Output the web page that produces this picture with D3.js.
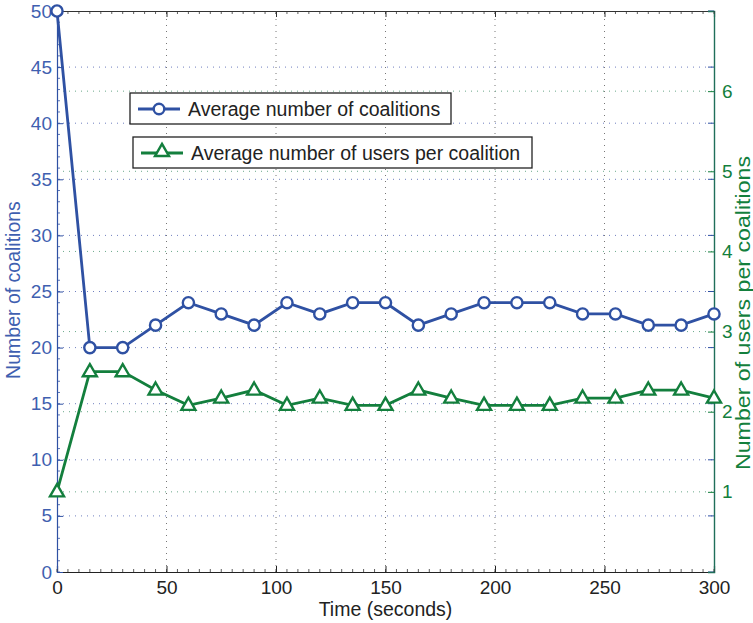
<!DOCTYPE html>
<html>
<head>
<meta charset="utf-8">
<script src="https://cdn.jsdelivr.net/npm/d3@7"></script>
<style>
  body { margin: 0; background: #fff; }
  svg { display: block; font-family: "Liberation Sans", Arial, sans-serif; }
</style>
</head>
<body>
<svg id="chart" width="753" height="623"></svg>
<script>
// Time samples (seconds)
const times = [0, 15, 30, 45, 60, 75, 90, 105, 120, 135, 150, 165, 180, 195, 210, 225, 240, 255, 270, 285, 300];
// Average number of coalitions (left axis)
const coalitions = [50, 20, 20, 22, 24, 23, 22, 24, 23, 24, 24, 22, 23, 24, 24, 24, 23, 23, 22, 22, 23];
// Average number of users per coalition (right axis)
const usersPerCoalition = [1, 2.5, 2.5, 2.27, 2.08, 2.17, 2.27, 2.08, 2.17, 2.08, 2.08, 2.27, 2.17, 2.08, 2.08, 2.08, 2.17, 2.17, 2.27, 2.27, 2.17];

const xTicks = [0, 50, 100, 150, 200, 250, 300];
const leftTicks = [0, 5, 10, 15, 20, 25, 30, 35, 40, 45, 50];
const rightTicks = [1, 2, 3, 4, 5, 6];

const blue = "#2f51a3";
const blueText = "#3f5fb0";
const green = "#137f3d";
const greenAxis = "#1f6f5a";
const tickFont = "19px";
const labelFont = "19.5px";

const m = { left: 57, right: 39, top: 11, bottom: 51 };
const W = 753, H = 623;
const svg = d3.select("#chart");

const x = d3.scaleLinear().domain([0, 300]).range([m.left, W - m.right]);
const yL = d3.scaleLinear().domain([0, 50]).range([H - m.bottom, m.top]);
const yR = d3.scaleLinear().domain([0, 7]).range([H - m.bottom, m.top]);

const x0 = x(0), x1 = x(300), y0 = yL(0), y1 = yL(50);

// Grid lines
const grid = svg.append("g");
grid.selectAll(".gx").data(xTicks.slice(1, -1)).join("line")
  .attr("x1", d => x(d)).attr("x2", d => x(d)).attr("y1", y0).attr("y2", y1)
  .attr("stroke", "#777").attr("stroke-width", 1).attr("stroke-dasharray", "1,5");
grid.selectAll(".gl").data(leftTicks.slice(1, -1)).join("line")
  .attr("x1", x0).attr("x2", x1).attr("y1", d => yL(d)).attr("y2", d => yL(d))
  .attr("stroke", "#6f7fbf").attr("stroke-width", 1).attr("stroke-dasharray", "1,5");
grid.selectAll(".gr").data(rightTicks).join("line")
  .attr("x1", x0).attr("x2", x1).attr("y1", d => yR(d)).attr("y2", d => yR(d))
  .attr("stroke", "#6aa98a").attr("stroke-width", 1).attr("stroke-dasharray", "1,5");

// Axes
const axB = d3.axisBottom(x).tickValues(xTicks).tickSize(-6).tickPadding(9).tickFormat(d3.format("d"));
const gB = svg.append("g").attr("transform", `translate(0,${y0})`).call(axB);
gB.select(".domain").attr("stroke", "#222").attr("stroke-width", 1.2);
gB.selectAll(".tick line").attr("stroke", "#222");
gB.selectAll("text").attr("fill", "#222").style("font-size", tickFont);

const axT = d3.axisTop(x).tickValues(xTicks).tickSize(-6).tickFormat("");
const gT = svg.append("g").attr("transform", `translate(0,${y1})`).call(axT);
gT.select(".domain").attr("stroke", "#333").attr("stroke-width", 1.2);
gT.selectAll(".tick line").attr("stroke", "#333");

const axL = d3.axisLeft(yL).tickValues(leftTicks).tickSize(-6).tickPadding(5).tickFormat(d3.format("d"));
const gL = svg.append("g").attr("transform", `translate(${x0},0)`).call(axL);
gL.select(".domain").attr("stroke", blue).attr("stroke-width", 1.2);
gL.selectAll(".tick line").attr("stroke", blue);
gL.selectAll("text").attr("fill", blueText).style("font-size", tickFont);

// Left-axis ticks mirrored on the right edge
svg.append("g").selectAll("line").data(leftTicks).join("line")
  .attr("x1", x1 - 6).attr("x2", x1).attr("y1", d => yL(d)).attr("y2", d => yL(d))
  .attr("stroke", blue);

const axR = d3.axisRight(yR).tickValues(rightTicks).tickSize(-6).tickPadding(8).tickFormat(d3.format("d"));
const gR = svg.append("g").attr("transform", `translate(${x1},0)`).call(axR);
gR.select(".domain").attr("stroke", greenAxis).attr("stroke-width", 1.4);
gR.selectAll(".tick line").attr("stroke", green);
gR.selectAll("text").attr("fill", green).style("font-size", tickFont);

// Minor ticks
const minor = svg.append("g");
minor.selectAll(".ml").data(d3.range(0, 50.01, 1)).join("line")
  .attr("x1", x0).attr("x2", x0 + 3).attr("y1", d => yL(d)).attr("y2", d => yL(d))
  .attr("stroke", blue).attr("stroke-width", 0.8);
minor.selectAll(".mt").data(d3.range(0, 300.01, 5)).join("line")
  .attr("x1", d => x(d)).attr("x2", d => x(d)).attr("y1", y1).attr("y2", y1 + 3)
  .attr("stroke", "#333").attr("stroke-width", 0.8);
minor.selectAll(".mb").data(d3.range(0, 300.01, 5)).join("line")
  .attr("x1", d => x(d)).attr("x2", d => x(d)).attr("y1", y0).attr("y2", y0 - 3)
  .attr("stroke", "#333").attr("stroke-width", 0.8);

// Series lines
const lineL = d3.line().x((d, i) => x(times[i])).y(d => yL(d));
const lineR = d3.line().x((d, i) => x(times[i])).y(d => yR(d));

svg.append("path").datum(usersPerCoalition).attr("d", lineR)
  .attr("fill", "none").attr("stroke", green).attr("stroke-width", 2.8);
svg.append("path").datum(coalitions).attr("d", lineL)
  .attr("fill", "none").attr("stroke", blue).attr("stroke-width", 2.8);

const tri = d3.symbol().type(d3.symbolTriangle).size(85);
svg.append("g").selectAll("path").data(usersPerCoalition).join("path")
  .attr("d", tri)
  .attr("transform", (d, i) => `translate(${x(times[i])},${yR(d) + 0.5})`)
  .attr("fill", "#fff").attr("stroke", green).attr("stroke-width", 2.4);

svg.append("g").selectAll("circle").data(coalitions).join("circle")
  .attr("cx", (d, i) => x(times[i])).attr("cy", d => yL(d)).attr("r", 5.6)
  .attr("fill", "#fff").attr("stroke", blue).attr("stroke-width", 2.4);

// Axis titles
svg.append("text").attr("x", x(150)).attr("y", 616).attr("text-anchor", "middle")
  .attr("fill", "#222").style("font-size", labelFont).text("Time (seconds)");
svg.append("text").attr("transform", `translate(20,290) rotate(-90)`)
  .attr("text-anchor", "middle").attr("fill", blueText).style("font-size", labelFont)
  .text("Number of coalitions");
svg.append("text").attr("transform", `translate(750,313) rotate(-90)`)
  .attr("text-anchor", "middle").attr("fill", green).style("font-size", labelFont)
  .attr("textLength", 314).attr("lengthAdjust", "spacingAndGlyphs")
  .text("Number of users per coalitions");

// Legends (one box per series)
function legend(bx, by, bw, color, marker, label) {
  const g = svg.append("g").attr("transform", `translate(${bx},${by})`);
  g.append("rect").attr("width", bw).attr("height", 31)
    .attr("fill", "#fff").attr("stroke", "#222").attr("stroke-width", 1.3);
  g.append("line").attr("x1", 8).attr("x2", 50).attr("y1", 16).attr("y2", 16)
    .attr("stroke", color).attr("stroke-width", 2.8);
  if (marker === "circle") {
    g.append("circle").attr("cx", 29).attr("cy", 16).attr("r", 5.3)
      .attr("fill", "#fff").attr("stroke", color).attr("stroke-width", 2.4);
  } else {
    g.append("path").attr("d", tri).attr("transform", "translate(29,15)")
      .attr("fill", "#fff").attr("stroke", color).attr("stroke-width", 2.4);
  }
  g.append("text").attr("x", 58).attr("y", 22.5).attr("fill", "#222")
    .style("font-size", labelFont).text(label);
}
legend(130, 93, 321, blue, "circle", "Average number of coalitions");
legend(133, 137, 399, green, "triangle", "Average number of users per coalition");
</script>
</body>
</html>
